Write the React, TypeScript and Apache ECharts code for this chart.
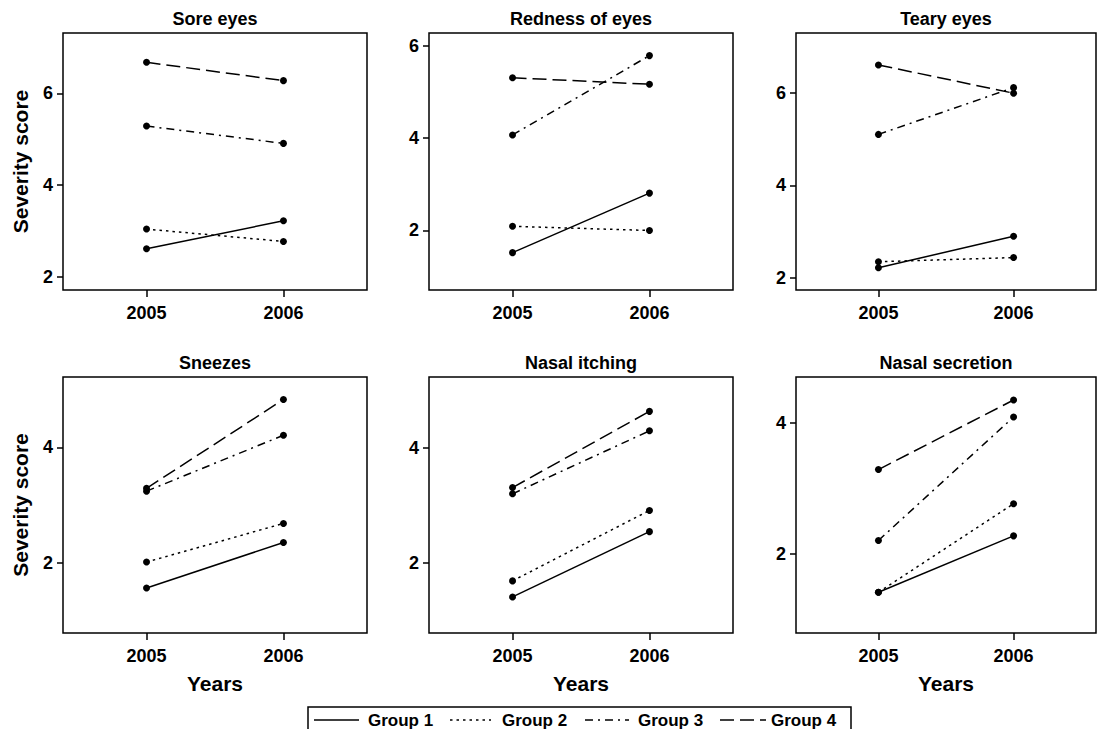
import React, { useEffect, useRef } from "react";
import * as echarts from "echarts";

const years = [2005, 2006];
const xTicks = [2005, 2006];
const panelTitles = ["Sore eyes", "Redness of eyes", "Teary eyes", "Sneezes", "Nasal itching", "Nasal secretion"];
const groupNames = ["Group 1", "Group 2", "Group 3", "Group 4"];
const group1 = [[2.61, 3.22], [1.52, 2.81], [2.22, 2.9], [1.56, 2.35], [1.4, 2.54], [1.42, 2.28]];
const group2 = [[3.04, 2.77], [2.09, 2.0], [2.35, 2.44], [2.01, 2.68], [1.68, 2.91], [1.42, 2.77]];
const group3 = [[5.29, 4.91], [4.07, 5.79], [5.1, 6.11], [3.24, 4.21], [3.2, 4.3], [2.21, 4.09]];
const group4 = [[6.68, 6.28], [5.31, 5.17], [6.6, 5.99], [3.29, 4.83], [3.31, 4.64], [3.29, 4.35]];
const yMins = [1.71, 0.71, 1.74, 0.78, 0.77, 0.8];
const yMaxs = [7.32, 6.28, 7.29, 5.22, 5.24, 4.7];
const yTicks = [[2, 4, 6], [2, 4, 6], [2, 4, 6], [2, 4], [2, 4], [2, 4]];
const yAxisTitle = "Severity score";
const xAxisTitle = "Years";

const FONT = "'Liberation Sans', Arial, Helvetica, sans-serif";
const dashes: (number[] | "solid")[] = ["solid", [2.5, 4], [8, 5, 2, 5], [14, 6]];

export default function App() {
  const ref = useRef<HTMLDivElement>(null);
  useEffect(() => {
    if (!ref.current) return;
    const chart = echarts.init(ref.current, undefined, { renderer: "svg" });
    const colLeft = [63, 429, 796];
    const colWidth = [304, 304, 300];
    const rowTop = [33, 377];
    const rowHeight = [257, 256];
    const groups = [group1, group2, group3, group4];

    const grids: any[] = [];
    const xAxes: any[] = [];
    const yAxes: any[] = [];
    const series: any[] = [];
    const graphics: any[] = [];

    for (let i = 0; i < 6; i++) {
      const r = Math.floor(i / 3);
      const c = i % 3;
      grids.push({
        left: colLeft[c],
        top: rowTop[r],
        width: colWidth[c],
        height: rowHeight[r],
        show: true,
        borderColor: "#000",
        borderWidth: 1.5,
        backgroundColor: "transparent",
        containLabel: false,
      });
      xAxes.push({
        type: "value",
        gridIndex: i,
        min: 2004.39,
        max: 2006.61,
        splitLine: { show: false },
        axisLine: { show: false, onZero: false },
        axisTick: { show: true, customValues: xTicks, length: 7, lineStyle: { color: "#000", width: 1.5 } },
        axisLabel: {
          customValues: xTicks,
          color: "#000",
          fontWeight: "bold",
          fontSize: 18,
          fontFamily: FONT,
          margin: 14,
          formatter: (v: number) => String(v),
        },
        name: r === 1 ? xAxisTitle : "",
        nameLocation: "middle",
        nameGap: 40,
        nameTextStyle: { color: "#000", fontWeight: "bold", fontSize: 21, fontFamily: FONT },
      });
      yAxes.push({
        type: "value",
        gridIndex: i,
        min: yMins[i],
        max: yMaxs[i],
        splitLine: { show: false },
        axisLine: { show: false, onZero: false },
        axisTick: { show: true, customValues: yTicks[i], length: 6, lineStyle: { color: "#000", width: 1.5 } },
        axisLabel: {
          customValues: yTicks[i],
          color: "#000",
          fontWeight: "bold",
          fontSize: 18,
          fontFamily: FONT,
          margin: 10,
        },
        name: c === 0 ? yAxisTitle : "",
        nameLocation: "middle",
        nameGap: 32,
        nameTextStyle: { color: "#000", fontWeight: "bold", fontSize: 21, fontFamily: FONT },
      });
      groups.forEach((g, gi) => {
        series.push({
          type: "line",
          name: groupNames[gi],
          xAxisIndex: i,
          yAxisIndex: i,
          data: years.map((y, k) => [y, g[i][k]]),
          symbol: "circle",
          symbolSize: 7,
          itemStyle: { color: "#000" },
          lineStyle: { color: "#000", width: 1.5, type: dashes[gi] },
          emphasis: { disabled: true },
          z: 2,
        });
      });
      graphics.push({
        type: "text",
        x: colLeft[c] + colWidth[c] / 2,
        y: rowTop[r] - 14,
        style: {
          text: panelTitles[i],
          fill: "#000",
          font: `bold 18px ${FONT}`,
          textAlign: "center",
          textVerticalAlign: "middle",
        },
      });
    }

    // Legend
    const legTop = 707;
    const legCy = 720;
    const legItems = [
      { x1: 314, x2: 359, tx: 368 },
      { x1: 450, x2: 491, tx: 502 },
      { x1: 585, x2: 629, tx: 638 },
      { x1: 720, x2: 766, tx: 771 },
    ];
    graphics.push({
      type: "rect",
      shape: { x: 308, y: legTop, width: 543, height: 40 },
      style: { fill: "#fff", stroke: "#000", lineWidth: 1.5 },
    });
    legItems.forEach((it, gi) => {
      graphics.push({
        type: "line",
        shape: { x1: it.x1, y1: legCy, x2: it.x2, y2: legCy },
        style: { stroke: "#000", lineWidth: 1.5, lineDash: dashes[gi] === "solid" ? null : dashes[gi] },
      });
      graphics.push({
        type: "text",
        x: it.tx,
        y: legCy,
        style: {
          text: groupNames[gi],
          fill: "#000",
          font: `bold 17px ${FONT}`,
          textAlign: "left",
          textVerticalAlign: "middle",
        },
      });
    });

    chart.setOption({
      animation: false,
      backgroundColor: "#fff",
      grid: grids,
      xAxis: xAxes,
      yAxis: yAxes,
      series,
      graphic: graphics,
    });
    return () => chart.dispose();
  }, []);
  return (
    <div
      ref={ref}
      style={{ position: "absolute", left: 0, top: 0, width: 1098, height: 729 }}
    />
  );
}
